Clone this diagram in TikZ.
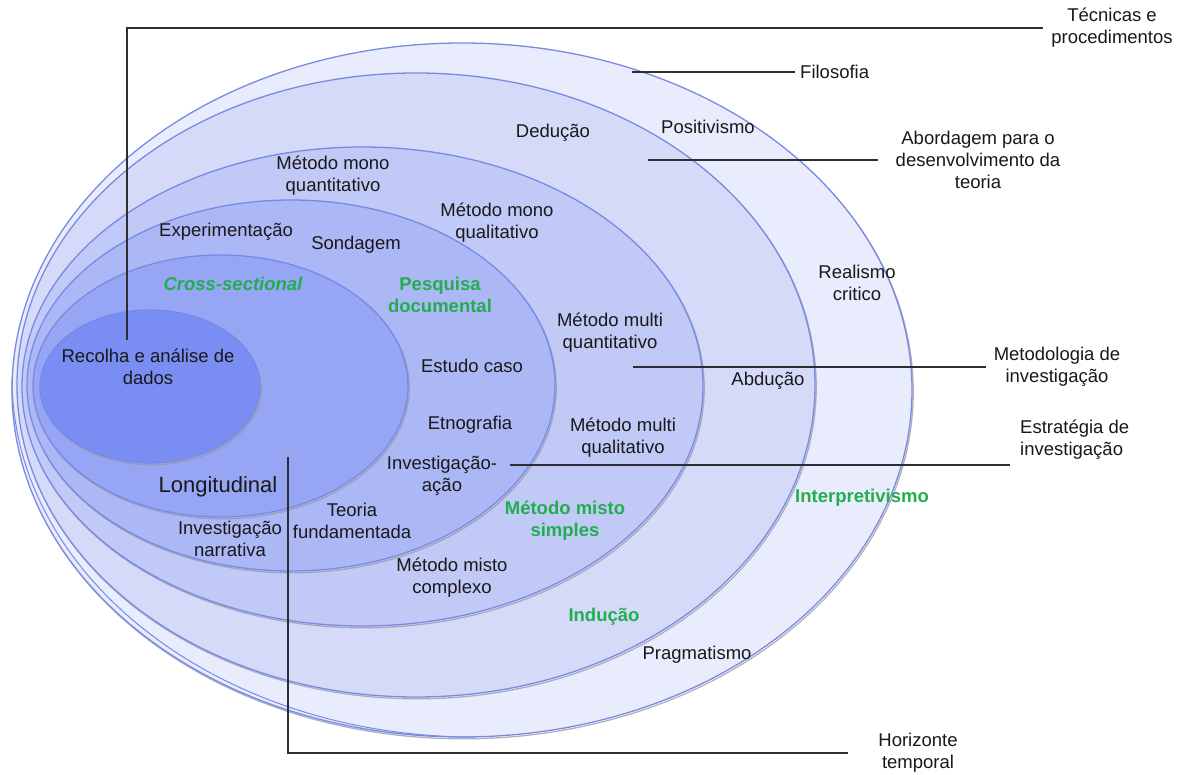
\documentclass[tikz,border=0pt]{standalone}
\usepackage{fontspec}
\setmainfont{Liberation Sans}
\definecolor{layA}{RGB}{233,236,252}
\definecolor{layB}{RGB}{213,218,249}
\definecolor{layC}{RGB}{193,201,247}
\definecolor{layD}{RGB}{172,183,245}
\definecolor{layE}{RGB}{150,165,244}
\definecolor{layF}{RGB}{121,141,243}
\definecolor{rim}{RGB}{120,138,228}
\definecolor{rimshade}{RGB}{150,152,165}
\definecolor{txt}{RGB}{25,25,25}
\definecolor{grn}{RGB}{34,174,78}
\definecolor{lead}{RGB}{45,45,50}
\begin{document}
\begin{tikzpicture}[x=1pt,y=-1pt,
  layer/.style={draw=rim, line width=1.3pt},
  rimshadow/.style={draw=rimshade, line width=1.3pt, opacity=0.75},
  lbl/.style={font=\fontsize{18.5}{22}\selectfont, text=txt, align=center, inner sep=0pt},
  glbl/.style={lbl, text=grn, font=\fontsize{18.5}{22}\selectfont\bfseries},
  leader/.style={draw=lead, line width=1.4pt}]

\useasboundingbox (0,0) rectangle (1183,775);
\fill[white] (0,0) rectangle (1183,775);

% nested layers, outermost first
\foreach \cx/\cy/\rx/\ry/\col in {
  462/390/450/347/layA,
  416/385/399/312/layB,
  362.5/386.5/340.5/239.5/layC,
  291/385.5/264/185.5/layD,
  220.5/386/187.5/131/layE,
  150/386.5/110/76.5/layF}{
  \draw[rimshadow] (\cx+1.2,\cy+1.8) ellipse [x radius=\rx pt, y radius=\ry pt];
  \draw[layer, fill=\col] (\cx,\cy) ellipse [x radius=\rx pt, y radius=\ry pt];
}
% second rim of the outer layer, touching it at its left and bottom
\draw[draw=rim, line width=1pt] ([shift={(180:462pt and 359pt)}]474,378)
  arc [start angle=180, end angle=270, x radius=462pt, y radius=359pt];

% layer names on the right
\node[lbl] (tec) at (1112,28) {Técnicas e\\procedimentos};
\node[lbl, anchor=west] (fil) at (800,72) {Filosofia};
\node[lbl] (abo) at (978,160) {Abordagem para o\\desenvolvimento da\\teoria};
\node[lbl] (met) at (1057,367) {Metodologia de\\investigação};
\node[lbl, anchor=west, align=left] (est) at (1020,440) {Estratégia de\\investigação};
\node[lbl] (hor) at (918,753) {Horizonte\\temporal};

% leader line anchors inside the onion
\coordinate (tecA) at (127,340);
\coordinate (filA) at (632,72);
\coordinate (aboA) at (648,160);
\coordinate (metA) at (633,367);
\coordinate (estA) at (510,465);
\coordinate (estB) at (1010,465);
\coordinate (horA) at (288,457);

\draw[leader] (tecA) |- ([xshift=-8pt]tec.west);
\draw[leader] (filA) -- ([xshift=-5pt]fil.west);
\draw[leader] (aboA) -- ([xshift=-18pt]abo.west);
\draw[leader] (metA) -- ([xshift=-8pt]met.west);
\draw[leader] (estA) -- (estB);
\draw[leader] (horA) |- ([xshift=-30pt]hor.west);

% philosophies
\node[lbl] (pos) at (708,127) {Positivismo};
\node[lbl] (rea) at (857,283) {Realismo\\critico};
\node[glbl] (int) at (862,498) {Interpretivismo};
\node[lbl] (pra) at (697,655) {Pragmatismo};

% approaches to theory development
\node[lbl] (ded) at (553,133) {Dedução};
\node[lbl] (abd) at (768,381) {Abdução};
\node[glbl] (ind) at (604,617) {Indução};

% methodological choices
\node[lbl] (mmqt) at (333,176) {Método mono\\quantitativo};
\node[lbl] (mmql) at (497,223) {Método mono\\qualitativo};
\node[lbl] (mlqt) at (610,333) {Método multi\\quantitativo};
\node[lbl] (mlql) at (623,438) {Método multi\\qualitativo};
\node[glbl] (mms) at (565,521) {Método misto\\simples};
\node[lbl] (mmc) at (452,578) {Método misto\\complexo};

% strategies
\node[lbl] (exp) at (226,232) {Experimentação};
\node[lbl] (son) at (356,245) {Sondagem};
\node[glbl] (pes) at (440,295) {Pesquisa\\documental};
\node[lbl] (cas) at (472,366) {Estudo caso};
\node[lbl] (etn) at (470,425) {Etnografia};
\node[lbl] (iac) at (442,476) {Investigação-\\ação};
\node[lbl] (teo) at (352,521) {Teoria\\fundamentada};
\node[lbl] (nar) at (230,539) {Investigação\\narrativa};

% time horizons
\node[glbl, font=\fontsize{18.5}{22}\selectfont\bfseries\itshape] (cro) at (233,284) {Cross-sectional};
\node[lbl, font=\fontsize{22}{26}\selectfont] (lon) at (218,487) {Longitudinal};

% techniques and procedures
\node[lbl] (rec) at (148,367) {Recolha e análise de\\dados};

\end{tikzpicture}
\end{document}
